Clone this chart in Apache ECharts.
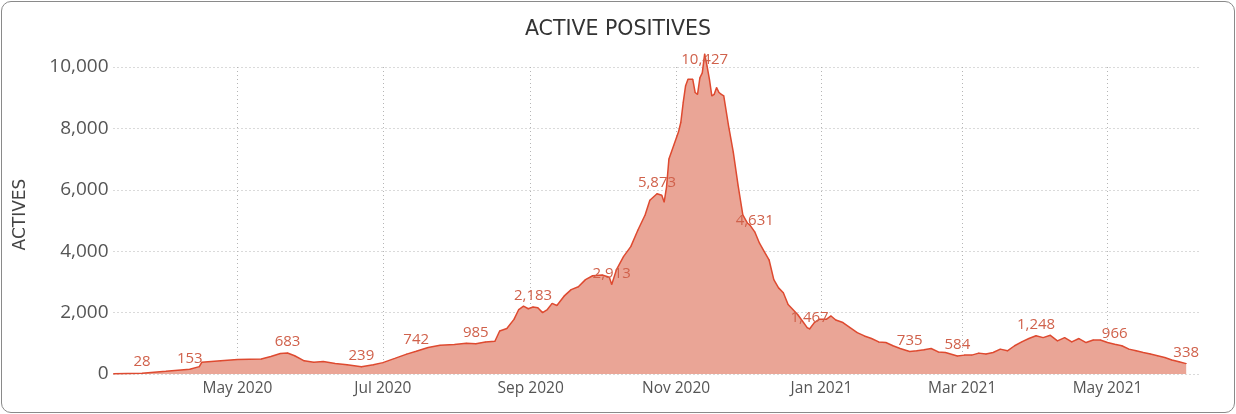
<!DOCTYPE html>
<html>
<head>
<meta charset="utf-8">
<script src="https://cdn.jsdelivr.net/npm/echarts@6/dist/echarts.min.js"></script>
<style>
    html, body { margin: 0; padding: 0; background: #fff; }
    #frame {
        position: absolute; left: 1px; top: 1px;
        width: 1232px; height: 410px;
        border: 1px solid #8a8a8a; border-radius: 10px;
        overflow: hidden;
    }
    #chart { width: 1232px; height: 410px; }
</style>
</head>
<body>
<div id="frame"><div id="chart"></div></div>
<script>
var dates = [
    '2020-03-10', '2020-03-22', '2020-04-01', '2020-04-11', '2020-04-15', '2020-04-16',
    '2020-04-24', '2020-05-01', '2020-05-11', '2020-05-15', '2020-05-19', '2020-05-22',
    '2020-05-25', '2020-05-29', '2020-06-02', '2020-06-06', '2020-06-11', '2020-06-16',
    '2020-06-22', '2020-06-27', '2020-07-01', '2020-07-06', '2020-07-11', '2020-07-15',
    '2020-07-20', '2020-07-25', '2020-07-31', '2020-08-05', '2020-08-09', '2020-08-13',
    '2020-08-17', '2020-08-19', '2020-08-22', '2020-08-25', '2020-08-27', '2020-08-29',
    '2020-08-31', '2020-09-02', '2020-09-04', '2020-09-06', '2020-09-08', '2020-09-10',
    '2020-09-12', '2020-09-15', '2020-09-18', '2020-09-21', '2020-09-24', '2020-09-27',
    '2020-10-01', '2020-10-04', '2020-10-05', '2020-10-07', '2020-10-10', '2020-10-13',
    '2020-10-16', '2020-10-19', '2020-10-21', '2020-10-24', '2020-10-26', '2020-10-27',
    '2020-10-28', '2020-10-29', '2020-10-31', '2020-11-02', '2020-11-03', '2020-11-04',
    '2020-11-05', '2020-11-06', '2020-11-08', '2020-11-09', '2020-11-10', '2020-11-11',
    '2020-11-12', '2020-11-13', '2020-11-14', '2020-11-15', '2020-11-16', '2020-11-17',
    '2020-11-18', '2020-11-19', '2020-11-20', '2020-11-21', '2020-11-23', '2020-11-25',
    '2020-11-27', '2020-11-29', '2020-12-01', '2020-12-02', '2020-12-04', '2020-12-06',
    '2020-12-08', '2020-12-10', '2020-12-12', '2020-12-14', '2020-12-16', '2020-12-18',
    '2020-12-20', '2020-12-22', '2020-12-24', '2020-12-26', '2020-12-27', '2020-12-29',
    '2020-12-31', '2021-01-03', '2021-01-05', '2021-01-07', '2021-01-10', '2021-01-13',
    '2021-01-16', '2021-01-19', '2021-01-22', '2021-01-25', '2021-01-28', '2021-01-31',
    '2021-02-03', '2021-02-07', '2021-02-10', '2021-02-13', '2021-02-16', '2021-02-19',
    '2021-02-22', '2021-02-27', '2021-03-02', '2021-03-05', '2021-03-08', '2021-03-11',
    '2021-03-14', '2021-03-17', '2021-03-20', '2021-03-23', '2021-03-26', '2021-03-29',
    '2021-04-01', '2021-04-04', '2021-04-07', '2021-04-10', '2021-04-13', '2021-04-16',
    '2021-04-19', '2021-04-22', '2021-04-25', '2021-04-28', '2021-05-01', '2021-05-04',
    '2021-05-07', '2021-05-10', '2021-05-13', '2021-05-16', '2021-05-19', '2021-05-22',
    '2021-05-25', '2021-05-28', '2021-05-31', '2021-06-03'
];
var actives = [
    5, 28, 90, 153, 240, 380,
    430, 470, 490, 570, 670, 683,
    595, 430, 380, 410, 345, 300,
    239, 300, 370, 508, 648, 742,
    864, 938, 960, 1003, 985, 1045,
    1068, 1400, 1480, 1780, 2100, 2210,
    2125, 2183, 2157, 2000, 2100, 2300,
    2230, 2535, 2750, 2840, 3075, 3200,
    3225, 3150, 2913, 3400, 3830, 4150,
    4690, 5180, 5660, 5873, 5825, 5600,
    6090, 7000, 7440, 7880, 8200, 8850,
    9390, 9600, 9600, 9170, 9110, 9650,
    9810, 10427, 10030, 9600, 9060, 9110,
    9330, 9170, 9110, 9060, 8090, 7230,
    6150, 5180, 4910, 4850, 4631, 4260,
    3990, 3720, 3075, 2805, 2645, 2265,
    2100, 1940, 1725, 1510, 1467, 1675,
    1780, 1780, 1890, 1760, 1675, 1510,
    1350, 1240, 1155, 1045, 1025, 920,
    830, 735, 755, 790, 830, 720,
    700, 584, 615, 615, 680, 650,
    700, 810, 755, 920, 1045, 1155,
    1248, 1185, 1260, 1080, 1185, 1045,
    1155, 1025, 1110, 1110, 1025, 966,
    920, 810, 755, 700, 650, 595,
    540, 455, 400, 338
];
var labelDates = [
    '2020-03-22', '2020-04-11', '2020-05-22', '2020-06-22', '2020-07-15', '2020-08-09',
    '2020-09-02', '2020-10-05', '2020-10-24', '2020-11-13', '2020-12-04', '2020-12-27',
    '2021-02-07', '2021-02-27', '2021-04-01', '2021-05-04', '2021-06-03'
];
var yTicks = [0, 2000, 4000, 6000, 8000, 10000];
var monthNames = ['Jan', 'Feb', 'Mar', 'Apr', 'May', 'Jun', 'Jul', 'Aug', 'Sep', 'Oct', 'Nov', 'Dec'];

var peak = Math.max.apply(null, actives);
var seriesData = dates.map(function (d, i) {
    var lbl = { show: labelDates.indexOf(d) > -1 };
    // the top label is kept inside the plot, so it sits over the peak
    if (actives[i] === peak) {
        lbl.position = 'bottom';
        lbl.distance = -2;
    }
    return { value: [d, actives[i]], label: lbl };
});

var chart = echarts.init(document.getElementById('chart'));
var font = '"Open Sans", "Segoe UI", sans-serif';
var dotted = { color: '#b5b5b5', type: [1, 3], width: 1 };

var option = {
    animation: false,
    title: {
        text: 'ACTIVE POSITIVES',
        left: 'center',
        top: 12,
        textStyle: { fontFamily: '"DejaVu Sans", sans-serif', fontSize: 20.5, fontWeight: 'normal', color: '#333' }
    },
    grid: { left: 111.5, right: 33.5, top: 65, bottom: 38 },
    xAxis: {
        type: 'time',
        min: '2020-03-10',
        max: '2021-06-09',
        splitNumber: 7,
        axisLine: { show: false },
        axisTick: { show: false },
        axisLabel: {
            fontFamily: font, fontSize: 15.5, color: '#555', margin: 7,
            formatter: function (val) {
                var d = new Date(val);
                return monthNames[d.getMonth()] + ' ' + d.getFullYear();
            }
        },
        splitLine: { show: true, showMinLine: false, showMaxLine: false, lineStyle: dotted }
    },
    yAxis: {
        type: 'value',
        min: yTicks[0],
        max: yTicks[yTicks.length - 1],
        interval: 2000,
        name: 'ACTIVES',
        nameLocation: 'middle',
        nameGap: 84,
        nameTextStyle: {
            fontFamily: '"DejaVu Sans", sans-serif', fontSize: 17, color: '#444',
            padding: [0, 0, 0, 12]
        },
        axisLine: { show: false },
        axisTick: { show: false },
        axisLabel: {
            fontFamily: font, fontSize: 19, color: '#555', margin: 5,
            formatter: function (v) { return v.toLocaleString('en-US'); }
        },
        splitLine: { lineStyle: dotted }
    },
    series: [{
        type: 'line',
        data: seriesData,
        clip: false,
        showSymbol: true,
        showAllSymbol: true,
        symbol: 'circle',
        symbolSize: 1,
        itemStyle: { color: '#de4a30' },
        lineStyle: { color: '#de4a30', width: 1.5 },
        areaStyle: { color: '#eaa596', opacity: 1 },
        label: {
            position: 'top',
            distance: 3,
            fontFamily: font,
            fontSize: 15,
            color: '#d0614b',
            formatter: function (p) { return p.value[1].toLocaleString('en-US'); }
        },
        labelLayout: { hideOverlap: false }
    }]
};

chart.setOption(option);
</script>
</body>
</html>
